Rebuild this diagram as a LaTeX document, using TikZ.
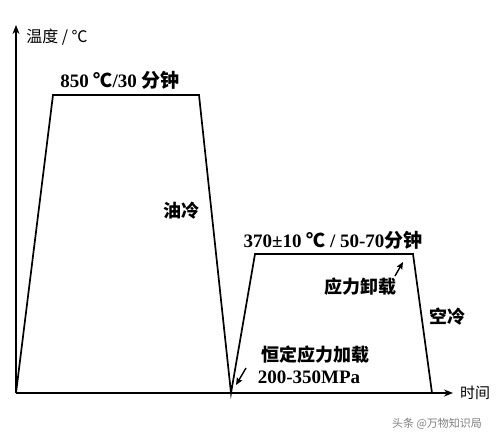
\documentclass[tikz,border=0pt]{standalone}
\usepackage{fontspec}
\setmainfont{Liberation Serif}
\newfontfamily\cjk{Noto Sans CJK SC}
\usepackage{tikz}
\usetikzlibrary{positioning, arrows.meta}
\tikzset{
>={Stealth[length=9pt, width=7pt]}, % arrow heads
curve/.style={line width=1.7pt, line join=miter}, % the temperature path
axis/.style={->, line width=1.7pt, shorten >=-3pt}, % the two axes
label/.style={font=\fontsize{19}{22}\selectfont\bfseries, inner sep=1pt}, % bold labels
cnlabel/.style={font=\fontsize{18}{22}\selectfont\cjk\bfseries, inner sep=1pt}, % chinese labels
pointer/.style={-{Stealth[length=7pt, width=6pt, inset=1pt]}, line width=1.4pt}, % small arrows to the corners
}
\begin{document}
\begin{tikzpicture}[x=1pt, y=-1pt]
            \useasboundingbox (0,0) rectangle (500,442);
            \fill[white] (0,0) rectangle (500,442);
            % corners of the two holds
            \coordinate (o) at (16,393);
            \coordinate (ytop) at (16,28);
            \coordinate (xend) at (450,393);
            \coordinate (aup) at (53,95);
            \coordinate (adown) at (199,95);
            \coordinate (quench) at (231,393);
            \coordinate (bup) at (255,254);
            \coordinate (bdown) at (413,254);
            \coordinate (bend) at (432,393);
            % axes
            \draw[axis] (o) -- (ytop);
            \draw[axis] (o) -- (xend);
            \node[cnlabel, font=\fontsize{16}{18}\selectfont\cjk] (ylab) at (57,37) {温度 / ℃};
            \node[cnlabel, font=\fontsize{15}{18}\selectfont\cjk] (xlab) at (475,393) {时间};
            % temperature path
            \draw[curve] (o) -- (aup) -- (adown) -- (quench) -- (bup) -- (bdown) -- (bend);
            \node[label] (hold1) at (120,80) {850 {\cjk ℃}/30 {\cjk 分钟}};
            \node[cnlabel] (oil) at (181,211) {油冷};
            \node[label] (hold2) at (333,240) {370±10 {\cjk ℃} / 50-70{\cjk 分钟}};
            \node[cnlabel] (unload) at (360,287) {应力卸载};
            \node[cnlabel] (air) at (447,317) {空冷};
            \node[cnlabel] (load) at (315,355) {恒定应力加载};
            \node[label] (stress) at (309,377) {200-350MPa};
            \node[font=\fontsize{11}{13}\selectfont\cjk, text=gray] (mark) at (437,424) {头条 @万物知识局};
            % arrows to the corners
            \coordinate (p1) at (395,276);
            \coordinate (p2) at (403,262);
            \coordinate (p3) at (246,368);
            \coordinate (p4) at (236,385);
            \draw[pointer] (p1) -- (p2);
            \draw[pointer] (p3) -- (p4);
        \end{tikzpicture}
\end{document}
